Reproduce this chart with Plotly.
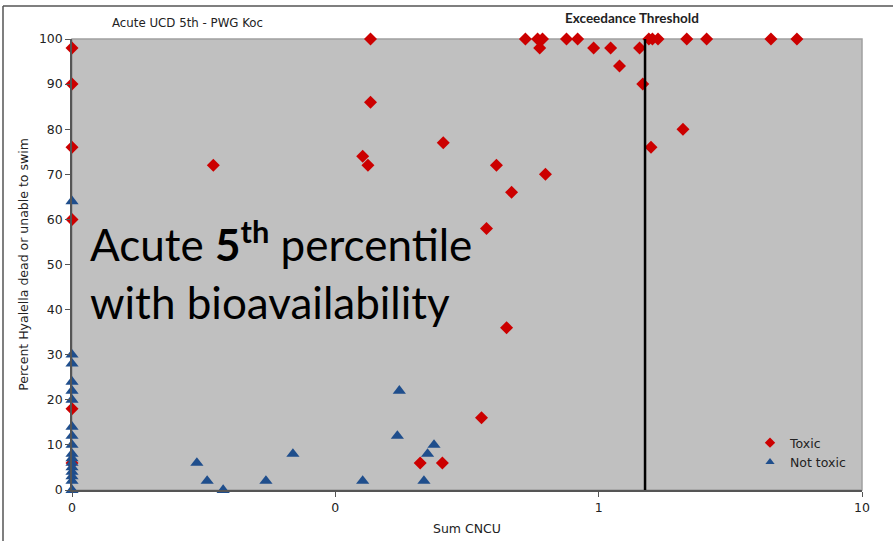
import plotly.graph_objects as go

# ---- data ----
toxic_x = [0.01, 0.01, 0.01, 0.01, 0.01, 0.01,
           0.0344, 0.136, 0.136, 0.127, 0.133, 0.257, 0.409, 0.467, 0.628,
           0.375, 0.447, 0.359, 0.210, 0.255,
           0.527, 0.586, 0.612, 0.755, 0.832, 1.55, 1.60, 1.68, 2.16, 2.57, 4.51, 5.66,
           0.597, 0.957, 1.11, 1.43, 1.20, 1.47, 2.09, 1.58]
toxic_y = [98, 90, 76, 60, 18, 6,
           72, 100, 86, 74, 72, 77, 72, 66, 70,
           58, 36, 16, 6, 6,
           100, 100, 100, 100, 100, 100, 100, 100, 100, 100, 100, 100,
           98, 98, 98, 98, 94, 90, 80, 76]

nontoxic_x = [0.01] * 17 + [0.0298, 0.0326, 0.0375, 0.0545, 0.069, 0.127,
                            0.175, 0.172, 0.237, 0.224, 0.217]
nontoxic_y = [64, 30, 28, 24, 22, 20, 14, 12, 10, 8, 7, 6, 5, 4, 3, 2, 0,
              6, 2, 0, 2, 8, 2, 22, 12, 10, 8, 2]

x_tickvals = [0.01, 0.1, 1, 10]
x_ticktext = ["0", "0", "1", "10"]
y_tickvals = [0, 10, 20, 30, 40, 50, 60, 70, 80, 90, 100]
threshold = 1.5

RED = "#CC0000"
BLUE = "#1F4E8C"
FONT = "DejaVu Sans"

fig = go.Figure()
fig.add_trace(go.Scatter(
    x=toxic_x, y=toxic_y, mode="markers", name="Toxic", showlegend=False,
    marker=dict(symbol="diamond", size=10, color=RED),
    cliponaxis=False,
))
fig.add_trace(go.Scatter(
    x=nontoxic_x, y=nontoxic_y, mode="markers", name="Not toxic", showlegend=False,
    marker=dict(symbol="triangle-up", size=11.5, color=BLUE),
    cliponaxis=False,
))
# legend entries with the smaller legend symbols
fig.add_trace(go.Scatter(x=[None], y=[None], mode="markers", name="Toxic",
                         marker=dict(symbol="diamond", size=8, color=RED)))
fig.add_trace(go.Scatter(x=[None], y=[None], mode="markers", name="Not toxic",
                         marker=dict(symbol="triangle-up", size=8, color=BLUE)))

L, R, T, B = 72, 31, 39, 51
W, H = 893, 541
pw, ph = W - L - R, H - T - B

def px(xp):
    return (xp - L) / pw

def py(yp):
    return (H - B - yp) / ph

fig.update_layout(
    width=W, height=H,
    margin=dict(l=L, r=R, t=T, b=B),
    paper_bgcolor="white",
    plot_bgcolor="#C0C0C0",
    font=dict(family=FONT, size=12, color="#222222"),
    showlegend=True,
    legend=dict(
        x=px(750), y=py(428), xanchor="left", yanchor="top",
        bgcolor="rgba(0,0,0,0)", font=dict(family=FONT, size=12.5, color="#222222"),
        itemwidth=30, tracegroupgap=0,
    ),
    xaxis=dict(
        type="log", range=[-2, 1], automargin=False,
        tickmode="array", tickvals=x_tickvals, ticktext=x_ticktext,
        showgrid=False, zeroline=False,
        showline=True, linecolor="#555555", linewidth=1.5,
        ticks="outside", ticklen=5, tickcolor="#555555",
        tickfont=dict(family=FONT, size=12.5, color="#222222"),
        title=dict(text="Sum CNCU", font=dict(family=FONT, size=12.5, color="#222222"), standoff=10),
    ),
    yaxis=dict(
        range=[0, 100], automargin=False,
        tickmode="array", tickvals=y_tickvals,
        showgrid=False, zeroline=False,
        showline=True, linecolor="#555555", linewidth=1.5,
        ticks="outside", ticklen=5, tickcolor="#555555",
        tickfont=dict(family=FONT, size=12.5, color="#222222"),
        title=dict(text="Percent Hyalella dead or unable to swim",
                   font=dict(family=FONT, size=12.5, color="#222222"), standoff=8),
    ),
    shapes=[
        dict(type="rect", xref="paper", yref="paper", x0=0, x1=1, y0=0, y1=1,
             line=dict(color="#A0A0A0", width=1.5), layer="below"),
        dict(type="line", xref="x", yref="y domain", x0=threshold, x1=threshold, y0=0, y1=1,
             line=dict(color="black", width=2.5)),
        dict(type="line", xref="paper", yref="paper", x0=px(3), x1=px(893), y0=py(6), y1=py(6),
             line=dict(color="#555555", width=1.5)),
        dict(type="line", xref="paper", yref="paper", x0=px(3), x1=px(3), y0=py(6), y1=py(541),
             line=dict(color="#555555", width=1.5)),
    ],
    annotations=[
        dict(text="Acute UCD 5th - PWG Koc", xref="paper", yref="paper",
             x=px(110), y=py(23), xanchor="left", yanchor="middle", showarrow=False,
             font=dict(family=FONT, size=11.8, color="#222222")),
        dict(text="<b>Exceedance Threshold</b>", xref="paper", yref="paper",
             x=px(632), y=py(18), xanchor="center", yanchor="middle", showarrow=False,
             font=dict(family="Lato", size=13.5, color="#222222")),
        dict(text="Acute <b>5</b><sup><b>th</b></sup> percentile",
             xref="paper", yref="paper", x=px(88), y=py(242),
             xanchor="left", yanchor="middle", align="left", showarrow=False,
             font=dict(family="Lato", size=44, color="black")),
        dict(text="with bioavailability",
             xref="paper", yref="paper", x=px(88), y=py(302),
             xanchor="left", yanchor="middle", align="left", showarrow=False,
             font=dict(family="Lato", size=44, color="black")),
    ],
)

fig.write_html("out.html", config={"displayModeBar": False},
               post_script="document.body.style.margin='0';")
